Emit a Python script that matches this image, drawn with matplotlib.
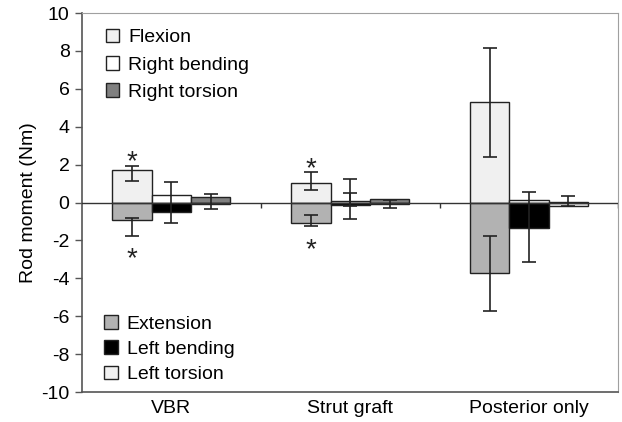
import numpy as np
import matplotlib.pyplot as plt

plt.rcParams['font.family'] = ['Liberation Sans', 'DejaVu Sans']
plt.rcParams['axes.unicode_minus'] = False

groups = ["VBR", "Strut graft", "Posterior only"]

# positive direction
flexion = [1.70, 1.03, 5.30]
right_bending = [0.42, 0.08, 0.16]
right_torsion = [0.28, 0.19, 0.02]
# negative direction
extension = [-0.93, -1.07, -3.70]
left_bending = [-0.49, -0.14, -1.35]
left_torsion = [-0.07, -0.05, -0.16]

# error bar ends (low, high), nan = none drawn
flexion_lo = [1.12, 0.68, 2.38]
flexion_hi = [1.95, 1.61, 8.17]
extension_lo = [-1.75, -1.25, -5.72]
extension_hi = [-0.83, -0.67, -1.77]
rbend_lo = [np.nan, -0.19, np.nan]
rbend_hi = [np.nan, 1.26, np.nan]
lbend_lo = [-1.07, -0.89, -3.12]
lbend_hi = [1.10, 0.51, 0.58]
rtors_lo = [-0.32, np.nan, np.nan]
rtors_hi = [0.46, np.nan, np.nan]
ltors_lo = [np.nan, -0.30, -0.19]
ltors_hi = [np.nan, 0.15, 0.35]

# significance stars (y positions of the text)
star_up = [2.15, 1.75, np.nan]
star_down = [-3.0, -2.5, np.nan]

x = np.arange(len(groups))
w = 0.22
edge = '#222222'
fs = 14

fig = plt.figure(figsize=(6.22, 4.22), dpi=100)
ax = fig.add_axes([0.132, 0.071, 0.862, 0.898])

series = [
    (flexion, flexion_lo, flexion_hi, -w, '#f0f0f0', 'Flexion'),
    (right_bending, rbend_lo, rbend_hi, 0, 'white', 'Right bending'),
    (right_torsion, rtors_lo, rtors_hi, w, '#808080', 'Right torsion'),
    (extension, extension_lo, extension_hi, -w, '#b2b2b2', 'Extension'),
    (left_bending, lbend_lo, lbend_hi, 0, 'black', 'Left bending'),
    (left_torsion, ltors_lo, ltors_hi, w, '#f0f0f0', 'Left torsion'),
]

handles = []
for vals, lo, hi, off, col, lab in series:
    vals = np.array(vals)
    b = ax.bar(x + off, vals, w, color=col, edgecolor=edge, linewidth=1.0,
               label=lab, zorder=2)
    handles.append(b)
    yerr = np.array([vals - np.array(lo), np.array(hi) - vals])
    ax.errorbar(x + off, vals, yerr=yerr, fmt='none', ecolor='#222222',
                elinewidth=1.2, capsize=5, capthick=1.2, zorder=4)

for xi, yu, yd in zip(x - w, star_up, star_down):
    if not np.isnan(yu):
        ax.text(xi, yu, '*', ha='center', va='center', fontsize=20, color='#222222')
    if not np.isnan(yd):
        ax.text(xi, yd, '*', ha='center', va='center', fontsize=20, color='#222222')

# zero line with category separators
ax.axhline(0, color='#333333', lw=1.0, zorder=3)
ax.vlines(x + 0.5, -0.3, 0, color='#333333', lw=1.0, zorder=3)

ax.set_xlim(-0.5, 2.5)
ax.set_ylim(-10, 10)
ax.set_yticks(np.arange(-10, 11, 2))
ax.set_xticks(x)
ax.set_xticklabels(groups, fontsize=fs)
ax.tick_params(axis='x', length=0, pad=6)
ax.tick_params(axis='y', length=5, width=1, color='#555555', labelsize=fs, pad=4)
ax.set_ylabel("Rod moment (Nm)", fontsize=fs, labelpad=3)

for s in ['top', 'right']:
    ax.spines[s].set_color('#a0a0a0')
for s in ['left', 'bottom']:
    ax.spines[s].set_color('#555555')
    ax.spines[s].set_linewidth(1.2)

leg_kw = dict(frameon=False, fontsize=fs, handlelength=0.7, handleheight=0.7,
              handletextpad=0.45)
leg1 = ax.legend(handles[:3], [h.get_label() for h in handles[:3]], loc='upper left',
                 bbox_to_anchor=(0.015, 1.0), borderaxespad=0.4, labelspacing=0.5,
                 **leg_kw)
ax.add_artist(leg1)
ax.legend(handles[3:], [h.get_label() for h in handles[3:]], loc='lower left',
          bbox_to_anchor=(0.025, 0.0), borderaxespad=0.05, labelspacing=0.4,
          **leg_kw)

fig.savefig("out.png", dpi=100)
